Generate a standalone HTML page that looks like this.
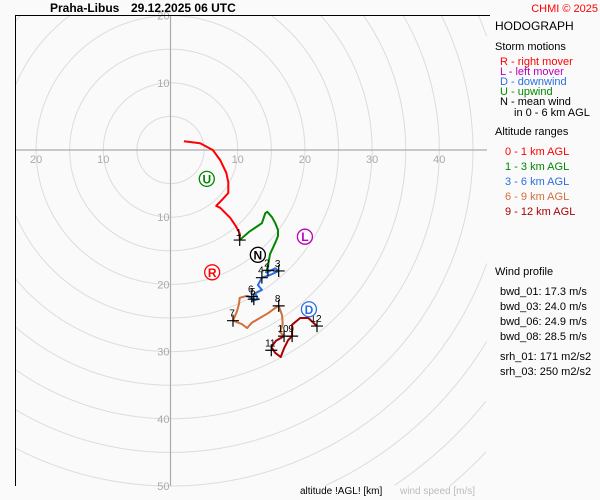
<!DOCTYPE html>
<html><head><meta charset="utf-8">
<style>
html,body{margin:0;padding:0;background:#fafafa;width:600px;height:500px;overflow:hidden;}
svg{display:block;font-family:"Liberation Sans",sans-serif;}
</style></head>
<body>
<svg id="chart" width="600" height="500" viewBox="0 0 600 500">
<rect x="0" y="0" width="600" height="500" fill="#fafafa"/>
<text x="50" y="12" font-size="12" font-weight="bold" fill="#000">Praha-Libus</text>
<text x="131" y="12" font-size="12" font-weight="bold" fill="#000">29.12.2025 06 UTC</text>
<text x="598" y="12" font-size="11" fill="#f00" text-anchor="end">CHMI © 2025</text>
<g id="grid"></g>
<g id="series"></g>
<line x1="15" y1="15.5" x2="490" y2="15.5" stroke="#000" stroke-width="1"/>
<line x1="15.5" y1="15" x2="15.5" y2="486" stroke="#000" stroke-width="1"/>
<g font-size="11">
<text x="495" y="30" font-size="12" fill="#000">HODOGRAPH</text>
<text x="495" y="50" fill="#000">Storm motions</text>
<text x="500" y="65" fill="#f00">R - right mover</text>
<text x="500" y="75" fill="#b0b">L - left mover</text>
<text x="500" y="85" fill="#2a6fe0">D - downwind</text>
<text x="500" y="95" fill="#080">U - upwind</text>
<text x="500" y="105" fill="#000">N - mean wind</text>
<text x="514" y="116" fill="#000">in 0 - 6 km AGL</text>
<text x="495" y="135" fill="#000">Altitude ranges</text>
<text x="505" y="155" fill="#f00">0 - 1 km AGL</text>
<text x="505" y="170" fill="#080">1 - 3 km AGL</text>
<text x="505" y="185" fill="#2a6fe0">3 - 6 km AGL</text>
<text x="505" y="200" fill="#d2703a">6 - 9 km AGL</text>
<text x="505" y="215" fill="#a00">9 - 12 km AGL</text>
<text x="495" y="275" fill="#000">Wind profile</text>
<text x="500" y="295" fill="#000">bwd_01: 17.3 m/s</text>
<text x="500" y="310" fill="#000">bwd_03: 24.0 m/s</text>
<text x="500" y="325" fill="#000">bwd_06: 24.9 m/s</text>
<text x="500" y="340" fill="#000">bwd_08: 28.5 m/s</text>
<text x="500" y="360" fill="#000">srh_01: 171 m2/s2</text>
<text x="500" y="375" fill="#000">srh_03: 250 m2/s2</text>
</g>
<text x="300" y="494" font-size="10" fill="#000">altitude !AGL! [km]</text>
<text x="400" y="494" font-size="10" fill="#bbb">wind speed [m/s]</text>
</svg>
<script>
const ringSpeeds=[5,10,15,20,25,30,35,40,45,50,55,60,65,70];
const xTicks=[-20,-10,10,20,30,40];
const yTicks=[20,10,-10,-20,-30,-40,-50];
const seg01U=[2.0,4.4,6.3,7.4,8.3,8.6,8.6,7.7,6.8,7.4,8.9,9.7,10.3,10.3];
const seg01V=[1.3,1.0,0,-1.5,-3.4,-4.8,-6.4,-7.4,-8.3,-8.6,-10.1,-11.3,-12.4,-13.4];
const seg13U=[10.3,11.8,13.6,14.1,14.4,15.1,15.6,16.0,16.0,15.6,14.8,14.5,14.2];
const seg13V=[-13.4,-12.1,-10.9,-9.4,-9.2,-10.0,-10.9,-11.9,-12.8,-13.8,-15.5,-17.3,-18.3];
const seg36U=[14.2,15.6,16.1,14.8,13.6,13.0,13.6,12.6,13.0,12.1,12.4,11.4];
const seg36V=[-18.3,-17.6,-18.0,-18.6,-19.0,-20.1,-20.8,-21.3,-22.2,-22.5,-22.2,-21.7];
const seg69U=[11.4,10.3,10.2,9.9,9.3,10.6,11.4,12.1,13.3,14.5,15.6,16.1,16.6,16.7,16.3,16.9];
const seg69V=[-21.7,-22.0,-22.9,-24.0,-25.4,-25.9,-26.5,-25.7,-25.0,-24.3,-23.5,-23.2,-24.6,-25.9,-27.1,-27.7];
const seg912U=[16.9,15.7,15.0,15.6,16.4,16.9,17.5,18.1,18.1,19.3,20.5,21.8];
const seg912V=[-27.7,-28.4,-29.3,-30.2,-30.8,-29.5,-28.3,-27.7,-26.0,-25.0,-25.0,-26.2];
const kmLabels=["1","2","3","4","5","6","7","8","9","10","11","12"];
const kmU=[10.3,14.5,16.1,13.6,12.4,12.1,9.3,16.1,18.1,16.9,15.0,21.8];
const kmV=[-13.4,-17.9,-18.0,-19.0,-22.2,-21.8,-25.4,-23.2,-27.7,-27.7,-29.8,-26.2];
const motionLabels=["U","L","R","N","D"];
const motionU=[5.4,20.0,6.2,13.0,20.6];
const motionV=[-4.3,-12.9,-18.2,-15.6,-23.7];
const motionColors=["#080","#b0b","#f00","#000","#2a6fe0"];

const NS="http://www.w3.org/2000/svg";
const cx=170.5, cy=150, k=6.72;
const L=15,T=15,R=487,B=486;
const X=u=>cx+u*k, Y=v=>cy-v*k;
function mk(tag,attrs,parent){const e=document.createElementNS(NS,tag);for(const a in attrs)e.setAttribute(a,attrs[a]);parent.appendChild(e);return e;}
const grid=document.getElementById('grid'), ser=document.getElementById('series');
ringSpeeds.forEach(s=>{
  const r=s*k; let d=''; let pen=false;
  for(let a=0;a<=1440;a++){
    const th=a/1440*2*Math.PI;
    const x=cx+r*Math.cos(th), y=cy+r*Math.sin(th);
    const inside=x>=L&&x<=R&&y>=T&&y<=B;
    if(inside){d+=(pen?'L':'M')+x.toFixed(1)+','+y.toFixed(1);pen=true;}else pen=false;
  }
  const c=mk('path',{d:d,fill:'none',stroke:'#dcdcdc','stroke-width':1},grid);
  
  
});
const ha=mk('line',{x1:L,y1:cy,x2:R,y2:cy,stroke:'#aaa','stroke-width':1.2},grid);


const va=mk('line',{x1:cx,y1:T,x2:cx,y2:B,stroke:'#aaa','stroke-width':1.2},grid);


xTicks.forEach(t=>{
  const e=mk('text',{x:X(t),y:cy+13,'font-size':11,fill:'#aaa','text-anchor':'middle'},grid);
  e.textContent=Math.abs(t);
  
  
});
yTicks.forEach(t=>{
  const e=mk('text',{x:cx-1,y:Math.min(Y(t)+4,490),'font-size':11,fill:'#aaa','text-anchor':'end'},grid);
  e.textContent=Math.abs(t);
  
  
});
function line(us,vs,color,name){
  const p=us.map((u,i)=>X(u).toFixed(1)+','+Y(vs[i]).toFixed(1)).join(' ');
  const e=mk('polyline',{points:p,fill:'none',stroke:color,'stroke-width':2,'stroke-linejoin':'round'},ser);
  
  
}
line(seg01U,seg01V,'#f00','hodo-0-1km');
line(seg13U,seg13V,'#080','hodo-1-3km');
line(seg36U,seg36V,'#2a6fe0','hodo-3-6km');
line(seg69U,seg69V,'#d2703a','hodo-6-9km');
line(seg912U,seg912V,'#a00','hodo-9-12km');
kmLabels.forEach((l,i)=>{
  const x=X(kmU[i]), y=Y(kmV[i]);
  const g=mk('g',{},ser);
  
  
  mk('path',{d:`M${x-6},${y}H${x+6}M${x},${y-6}V${y+6}`,stroke:'#000','stroke-width':1.2},g);
  const t=mk('text',{x:x-1,y:y-4,'font-size':10,fill:'#000','text-anchor':'middle'},g);
  t.textContent=l;
});
motionLabels.forEach((l,i)=>{
  const x=X(motionU[i]), y=Y(motionV[i]);
  const g=mk('g',{},ser);
  
  
  mk('circle',{cx:x,cy:y,r:7.5,fill:'#fff',stroke:motionColors[i],'stroke-width':1.3},g);
  const t=mk('text',{x:x,y:y+4.5,'font-size':12,'font-weight':'bold',fill:motionColors[i],'text-anchor':'middle'},g);
  t.textContent=l;
});
</script>
</body></html>
